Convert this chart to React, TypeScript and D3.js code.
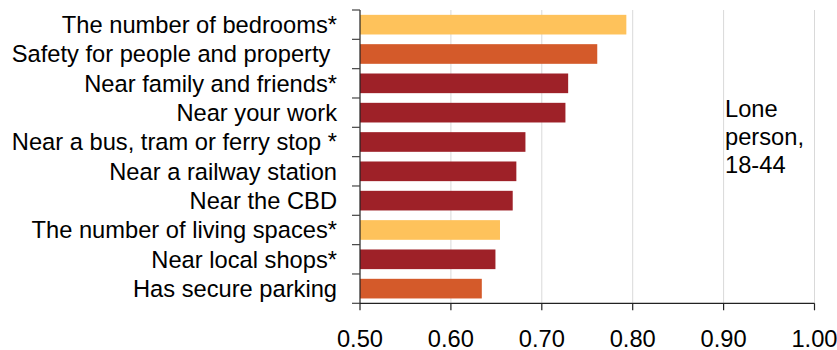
import React from "react";
import * as d3 from "d3";

const categories = [
  "The number of bedrooms*",
  "Safety for people and property ",
  "Near family and friends*",
  "Near your work",
  "Near a bus, tram or ferry stop *",
  "Near a railway station",
  "Near the CBD",
  "The number of living spaces*",
  "Near local shops*",
  "Has secure parking",
];
const values = [0.793, 0.761, 0.729, 0.726, 0.682, 0.672, 0.668, 0.654, 0.649, 0.634];
const groups = ["dwelling", "safety", "location", "location", "location", "location", "location", "dwelling", "location", "safety"];
const groupColors: Record<string, string> = {
  dwelling: "#FEC25B",
  safety: "#D45A2A",
  location: "#9E2128",
};
const xTicks = [0.5, 0.6, 0.7, 0.8, 0.9, 1.0];
const annotation = ["Lone", "person,", "18-44"];

const W = 837;
const H = 350;
const left = 360;
const right = 814.5;
const top = 10;
const bottom = 303.3;
const font = "'Liberation Sans', Arial, sans-serif";
const fs = 23.7;

export default function App() {
  const x = d3.scaleLinear().domain([0.5, 1.0]).range([left, right]);
  const y = d3
    .scaleBand<string>()
    .domain(categories)
    .range([top, bottom])
    .paddingInner(0.33)
    .paddingOuter(0.165);
  const step = y.step();
  const boundaries = d3.range(categories.length + 1).map((i) => top + i * step);

  return (
    <svg
      width={W}
      height={H}
      style={{ position: "absolute", left: 0, top: 0, background: "#fff" }}
      fontFamily={font}
    >
      <rect width={W} height={H} fill="#fff" />
      {xTicks.slice(1).map((t) => (
        <line key={"g" + t} x1={x(t)} x2={x(t)} y1={top} y2={bottom} stroke="#d9d9d9" strokeWidth={1} />
      ))}
      {categories.map((c, i) => (
        <rect
          key={c}
          x={x(0.5)}
          y={y(c)}
          width={x(values[i]) - x(0.5)}
          height={y.bandwidth()}
          fill={groupColors[groups[i]]}
        />
      ))}
      <line x1={left} x2={left} y1={top} y2={bottom} stroke="#222" strokeWidth={1.2} />
      {boundaries.map((b, i) => (
        <line key={"yt" + i} x1={left - 8} x2={left} y1={b} y2={b} stroke="#444" strokeWidth={1.2} />
      ))}
      <line x1={left} x2={right} y1={bottom} y2={bottom} stroke="#222" strokeWidth={1.2} />
      {xTicks.map((t) => (
        <g key={"xt" + t}>
          <line x1={x(t)} x2={x(t)} y1={bottom} y2={bottom + 7} stroke="#222" strokeWidth={1.2} />
          <text x={x(t)} y={346.5} textAnchor="middle" fontSize={fs} fill="#000">
            {d3.format(".2f")(t)}
          </text>
        </g>
      ))}
      {categories.map((c) => (
        <text
          key={"l" + c}
          x={337}
          y={(y(c) ?? 0) + y.bandwidth() / 2}
          dy="0.35em"
          textAnchor="end"
          fontSize={fs}
          fill="#000"
          style={{ whiteSpace: "pre" }}
        >
          {c}
        </text>
      ))}
      <text x={725} y={116.5} fontSize={fs} fill="#000">
        {annotation.map((a, i) => (
          <tspan key={a} x={725} y={116.5 + i * 28.3}>
            {a}
          </tspan>
        ))}
      </text>
    </svg>
  );
}
